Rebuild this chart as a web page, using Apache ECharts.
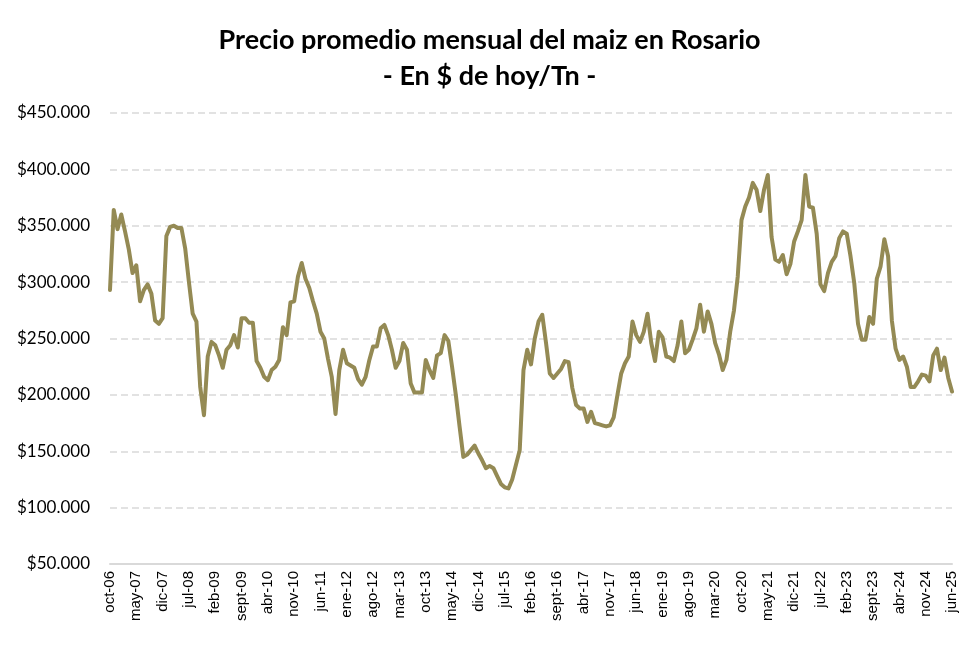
<!DOCTYPE html>
<html>
<head>
<meta charset="utf-8">
<script src="https://cdn.jsdelivr.net/npm/echarts@6/dist/echarts.min.js"></script>
<style>
  html, body { margin: 0; padding: 0; background: #fff; }
  #chart { width: 979px; height: 648px; }
</style>
</head>
<body>
<div id="chart"></div>
<script>
// meses en español, serie mensual oct-06 a jun-25
var mesesAbrev = ['ene', 'feb', 'mar', 'abr', 'may', 'jun', 'jul', 'ago', 'sept', 'oct', 'nov', 'dic'];
var anioInicio = 2006;
var mesInicio = 9; // octubre
var cantidadMeses = 225;

// precio promedio mensual, $ de hoy por tonelada (en miles)
var precioMiles = [
  293, 364, 347, 360, 345, 329, 308, 315, 283, 293, 298, 290, 266, 263, 268, 341,
  349, 350, 348, 348, 330, 300, 272, 265, 207, 182, 234, 247, 244, 235, 224, 240,
  244, 253, 242, 268, 268, 264, 264, 230, 224, 216, 213, 222, 225, 231, 260, 253,
  282, 283, 305, 317, 303, 295, 283, 272, 256, 250, 232, 216, 183, 222, 240, 228,
  226, 224, 214, 209, 216, 231, 243, 243, 259, 262, 253, 240, 224, 230, 246, 240,
  210, 202, 202, 202, 231, 222, 215, 235, 237, 253, 248, 225, 200, 172, 145, 147,
  151, 155, 148, 142, 135, 137, 135, 128, 121, 118, 117, 125, 138, 151, 222, 240,
  227, 250, 265, 271, 246, 219, 215, 219, 223, 230, 229, 206, 191, 188, 188, 176,
  185, 175, 174, 173, 172, 173, 180, 200, 219, 228, 234, 265, 253, 247, 256, 272,
  246, 230, 256, 251, 234, 233, 230, 244, 265, 237, 240, 249, 259, 280, 256, 274,
  263, 246, 236, 222, 231, 256, 275, 305, 355, 367, 375, 388, 382, 363, 382, 395,
  340, 320, 318, 324, 307, 316, 336, 345, 355, 395, 367, 366, 343, 298, 292, 308,
  318, 323, 339, 345, 343, 323, 299, 263, 249, 249, 269, 263, 303, 314, 338, 323,
  266, 241, 231, 234, 225, 207, 207, 212, 218, 217, 212, 235, 241, 222, 233, 215,
  203
];

var yMin = 50000;
var yMax = 450000;
var yPaso = 50000;

var categorias = [];
for (var k = 0; k < cantidadMeses; k++) {
  var m = (mesInicio + k) % 12;
  var a = anioInicio + Math.floor((mesInicio + k) / 12);
  categorias.push(mesesAbrev[m] + '-' + String(a % 100).padStart(2, '0'));
}
var precios = precioMiles.map(function (v) { return v * 1000; });

function formatoPesos(v) {
  return '$' + String(v).replace(/\B(?=(\d{3})+(?!\d))/g, '.');
}

var myChart = echarts.init(document.getElementById('chart'));
var option = {
  backgroundColor: '#ffffff',
  animation: false,
  title: {
    text: 'Precio promedio mensual del maiz en Rosario\n- En $ de hoy/Tn -',
    left: 'center',
    top: 17,
    textStyle: {
      fontFamily: 'Lato',
      fontWeight: 'bold',
      fontSize: 27,
      lineHeight: 36,
      color: '#000000'
    }
  },
  grid: {
    left: 110,
    right: 27,
    top: 113,
    bottom: 84,
    containLabel: false
  },
  xAxis: {
    type: 'category',
    data: categorias,
    boundaryGap: false,
    axisLine: { show: true, lineStyle: { color: '#d9d9d9', width: 2 } },
    axisTick: { show: false },
    splitLine: { show: false },
    axisLabel: {
      interval: 6,
      rotate: 90,
      margin: 7,
      color: '#000000',
      fontFamily: 'Liberation Sans',
      fontSize: 15
    }
  },
  yAxis: {
    type: 'value',
    min: yMin,
    max: yMax,
    interval: yPaso,
    axisLine: { show: false },
    axisTick: { show: false },
    splitLine: {
      show: true,
      lineStyle: { color: '#d9d9d9', width: 1.5, type: [7, 4] }
    },
    axisLabel: {
      margin: 20,
      color: '#000000',
      fontFamily: 'Lato',
      fontSize: 17,
      formatter: formatoPesos
    }
  },
  series: [
    {
      name: 'Precio maiz',
      type: 'line',
      data: precios,
      showSymbol: false,
      smooth: false,
      lineStyle: { color: '#948a54', width: 4, join: 'round', cap: 'round' },
      itemStyle: { color: '#948a54' }
    }
  ]
};
option && myChart.setOption(option);
</script>
</body>
</html>
